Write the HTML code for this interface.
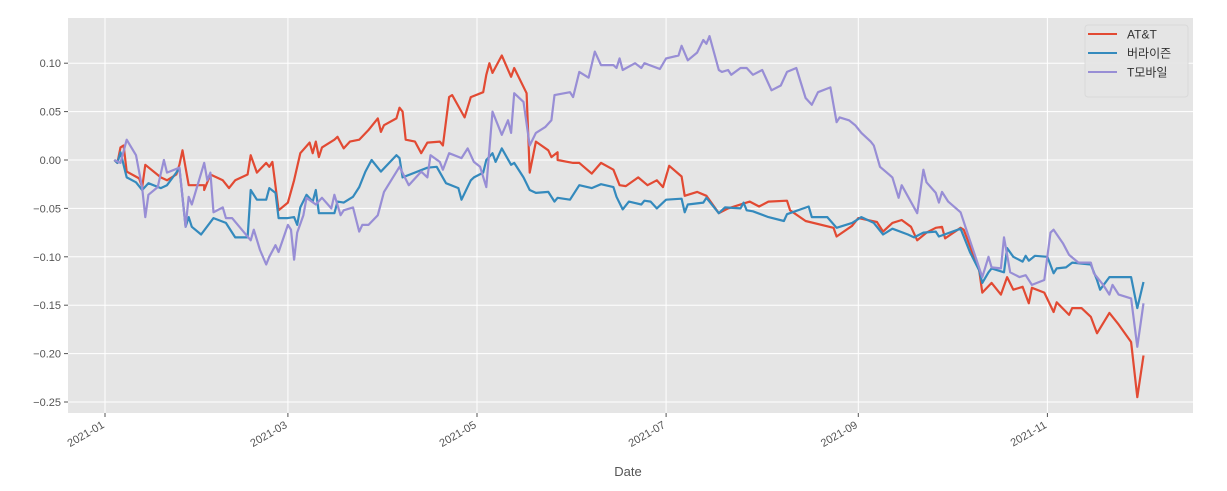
<!DOCTYPE html>
<html><head><meta charset="utf-8"><style>
html,body{margin:0;padding:0;background:#fff;}
svg{display:block;font-family:"Liberation Sans","Noto Sans CJK KR",sans-serif;}
</style></head><body>
<svg id="chart" width="1227" height="491" viewBox="0 0 1227 491" xmlns="http://www.w3.org/2000/svg">
<rect x="68" y="18" width="1125" height="395" fill="#E5E5E5"/>
<g id="grid"></g>
<g id="series"></g>
<g id="axes"></g>
<text x="628" y="476" text-anchor="middle" font-size="13" fill="#555">Date</text>
<g>
<rect x="1085" y="25" width="103" height="72" rx="3" fill="#E5E5E5" stroke="#d8d8d8" stroke-width="1" opacity="0.9"/>
<g><line x1="1088" y1="34" x2="1117" y2="34" stroke="#E24A33" stroke-width="2"/><text x="1127" y="38.5" font-size="12" fill="#333">AT&amp;T</text></g>
<g><line x1="1088" y1="53" x2="1117" y2="53" stroke="#348ABD" stroke-width="2"/><text x="1127" y="57.5" font-size="12" fill="#333">버라이즌</text></g>
<g><line x1="1088" y1="72" x2="1117" y2="72" stroke="#988ED5" stroke-width="2"/><text x="1127" y="76.5" font-size="12" fill="#333">T모바일</text></g>
</g>
</svg>
<script>
// day-of-year (0 = 2021-01-01), cumulative return
const attDays=[3,4,5,6,7,11,12,13,18,20,23,24,25,27,32,32,34,38,40,42,46,47,49,52,53,54,56,59,61,63,66,67,68,69,70,74,75,77,79,82,85,88,89,90,94,95,96,97,100,102,104,108,109,111,112,116,118,122,123,124,125,128,131,132,136,137,139,143,144,146,146,151,153,157,160,164,166,168,172,175,178,180,182,186,187,191,194,198,201,208,211,214,220,221,226,235,236,241,243,249,251,254,257,260,262,265,268,270,271,276,277,282,283,286,289,291,293,296,298,299,303,306,307,311,312,315,318,320,324,327,331,333,335];
const attVals=[0,-0.003,0.013,0.015,-0.012,-0.019,-0.028,-0.005,-0.018,-0.021,-0.015,-0.005,0.010,-0.026,-0.026,-0.031,-0.015,-0.021,-0.029,-0.021,-0.015,0.005,-0.013,-0.003,-0.007,-0.002,-0.052,-0.044,-0.021,0.007,0.018,0.007,0.019,0.003,0.013,0.021,0.024,0.012,0.019,0.021,0.031,0.043,0.029,0.036,0.043,0.054,0.050,0.021,0.019,0.007,0.018,0.019,0.015,0.065,0.067,0.044,0.065,0.070,0.088,0.100,0.090,0.108,0.086,0.095,0.069,-0.013,0.019,0.010,0.003,0.008,0,-0.003,-0.003,-0.014,-0.003,-0.010,-0.026,-0.027,-0.018,-0.026,-0.021,-0.028,-0.006,-0.017,-0.037,-0.033,-0.037,-0.055,-0.050,-0.043,-0.048,-0.043,-0.042,-0.052,-0.063,-0.070,-0.079,-0.068,-0.060,-0.064,-0.074,-0.065,-0.062,-0.069,-0.083,-0.075,-0.070,-0.069,-0.081,-0.070,-0.072,-0.114,-0.137,-0.127,-0.139,-0.121,-0.134,-0.131,-0.148,-0.132,-0.137,-0.157,-0.147,-0.160,-0.153,-0.153,-0.162,-0.179,-0.158,-0.170,-0.188,-0.245,-0.202];
const vzDays=[3,4,5,7,10,12,14,18,20,23,24,26,27,28,31,35,39,42,46,47,49,52,53,55,56,59,61,62,63,65,67,68,69,74,75,77,80,82,84,86,89,94,95,96,104,107,110,114,115,118,119,122,123,125,126,128,131,132,135,137,139,143,145,146,150,153,157,160,164,165,167,169,173,174,176,178,181,186,187,188,193,194,198,200,205,206,207,209,214,219,220,227,228,233,236,241,244,248,251,254,259,261,264,268,269,276,279,282,283,285,286,290,291,293,296,297,298,300,304,306,307,310,312,318,320,321,324,331,333,335];
const vzVals=[0,-0.003,0.008,-0.018,-0.023,-0.031,-0.024,-0.029,-0.026,-0.013,-0.008,-0.069,-0.059,-0.069,-0.077,-0.060,-0.065,-0.080,-0.080,-0.031,-0.041,-0.041,-0.029,-0.034,-0.060,-0.060,-0.059,-0.067,-0.049,-0.036,-0.043,-0.031,-0.055,-0.055,-0.043,-0.044,-0.038,-0.028,-0.012,0,-0.012,0.005,0.002,-0.018,-0.008,-0.007,-0.024,-0.029,-0.041,-0.021,-0.018,-0.013,0,0.007,-0.002,0.012,-0.005,-0.003,-0.018,-0.031,-0.034,-0.033,-0.043,-0.039,-0.041,-0.026,-0.029,-0.025,-0.028,-0.038,-0.051,-0.043,-0.046,-0.042,-0.043,-0.050,-0.041,-0.040,-0.054,-0.046,-0.044,-0.039,-0.055,-0.049,-0.050,-0.044,-0.052,-0.053,-0.059,-0.063,-0.056,-0.048,-0.059,-0.059,-0.070,-0.065,-0.059,-0.065,-0.077,-0.071,-0.077,-0.080,-0.075,-0.074,-0.079,-0.071,-0.095,-0.114,-0.127,-0.116,-0.112,-0.116,-0.091,-0.100,-0.105,-0.099,-0.104,-0.099,-0.100,-0.117,-0.112,-0.111,-0.106,-0.108,-0.124,-0.134,-0.121,-0.121,-0.153,-0.126];
const tmDays=[3,5,7,10,12,13,14,17,19,20,24,26,27,28,32,33,34,35,38,39,41,47,48,50,52,53,55,56,59,60,61,62,64,65,68,70,73,74,76,77,80,82,83,85,88,90,95,98,102,104,105,108,109,111,115,117,119,121,123,125,128,130,131,132,135,137,139,142,144,145,150,151,153,156,158,160,164,165,166,167,171,173,174,179,181,185,186,188,191,193,194,195,198,199,201,202,205,207,209,212,215,218,220,223,226,228,230,234,236,237,240,242,244,247,248,250,254,256,257,262,264,265,268,269,270,272,276,279,283,285,286,289,290,292,295,297,299,303,305,306,309,311,314,318,319,322,324,325,327,331,333,335];
const tmVals=[0,-0.003,0.021,0.005,-0.029,-0.059,-0.036,-0.028,0,-0.013,-0.008,-0.069,-0.038,-0.046,-0.003,-0.021,-0.013,-0.054,-0.049,-0.060,-0.060,-0.083,-0.072,-0.093,-0.108,-0.100,-0.088,-0.095,-0.067,-0.072,-0.103,-0.075,-0.057,-0.039,-0.046,-0.039,-0.050,-0.036,-0.057,-0.052,-0.049,-0.074,-0.067,-0.067,-0.057,-0.033,-0.007,-0.026,-0.012,-0.018,0.005,-0.002,-0.010,0.007,0.002,0.012,-0.002,-0.007,-0.028,0.050,0.026,0.041,0.028,0.069,0.060,0.015,0.028,0.034,0.041,0.067,0.070,0.065,0.091,0.085,0.112,0.098,0.098,0.095,0.105,0.093,0.100,0.095,0.100,0.094,0.105,0.108,0.118,0.103,0.111,0.124,0.120,0.128,0.093,0.091,0.093,0.088,0.095,0.095,0.088,0.093,0.072,0.077,0.091,0.095,0.064,0.057,0.070,0.075,0.039,0.044,0.041,0.036,0.028,0.019,0.015,-0.007,-0.018,-0.039,-0.026,-0.055,-0.010,-0.023,-0.034,-0.044,-0.033,-0.043,-0.054,-0.083,-0.121,-0.100,-0.111,-0.112,-0.080,-0.116,-0.121,-0.119,-0.129,-0.124,-0.075,-0.072,-0.086,-0.098,-0.106,-0.106,-0.117,-0.129,-0.139,-0.129,-0.139,-0.143,-0.193,-0.148];
const yTicks=[0.10,0.05,0.00,-0.05,-0.10,-0.15,-0.20,-0.25];
const yTickLabels=["0.10","0.05","0.00","−0.05","−0.10","−0.15","−0.20","−0.25"];
const xTicks=[0,59,120,181,243,304];
const xTickLabels=["2021-01","2021-03","2021-05","2021-07","2021-09","2021-11"];

const NS="http://www.w3.org/2000/svg";
const PL=68,PR=1193,PT=18,PB=413;
function xs(d){return 105+d*3.1;}
function ys(v){return 160-v*968;}
function mk(tag,attrs,parent){const e=document.createElementNS(NS,tag);for(const k in attrs)e.setAttribute(k,attrs[k]);parent.appendChild(e);return e;}
const grid=document.getElementById('grid'),axes=document.getElementById('axes'),ser=document.getElementById('series');
yTicks.forEach((t,i)=>{
  const y=ys(t);
  const g=mk('line',{x1:PL,x2:PR,y1:y,y2:y,stroke:'#fff','stroke-width':1},grid);
  
  
  const tk=mk('line',{x1:PL-4,x2:PL,y1:y,y2:y,stroke:'#555'},axes);
  
  
  const tx=mk('text',{x:PL-7,y:y+4,'text-anchor':'end','font-size':11,fill:'#555'},axes);
  tx.textContent=yTickLabels[i];
  
  
});
xTicks.forEach((t,i)=>{
  const x=xs(t);
  const g=mk('line',{x1:x,x2:x,y1:PT,y2:PB,stroke:'#fff','stroke-width':1},grid);
  
  
  const tk=mk('line',{x1:x,x2:x,y1:PB,y2:PB+4,stroke:'#555'},axes);
  
  
  const tx=mk('text',{x:x,y:PB+14,'text-anchor':'end','font-size':11,fill:'#555',transform:'rotate(-30 '+x+' '+(PB+14)+')'},axes);
  tx.textContent=xTickLabels[i];
  
  
});
function line(days,vals,color,name){
  const pts=days.map((d,i)=>xs(d).toFixed(1)+','+ys(vals[i]).toFixed(1)).join(' ');
  const p=mk('polyline',{points:pts,fill:'none',stroke:color,'stroke-width':2.2,'stroke-linejoin':'round'},ser);
  
  
}
line(attDays,attVals,'#E24A33','att-line');
line(vzDays,vzVals,'#348ABD','verizon-line');
line(tmDays,tmVals,'#988ED5','tmobile-line');
</script>
</body></html>
